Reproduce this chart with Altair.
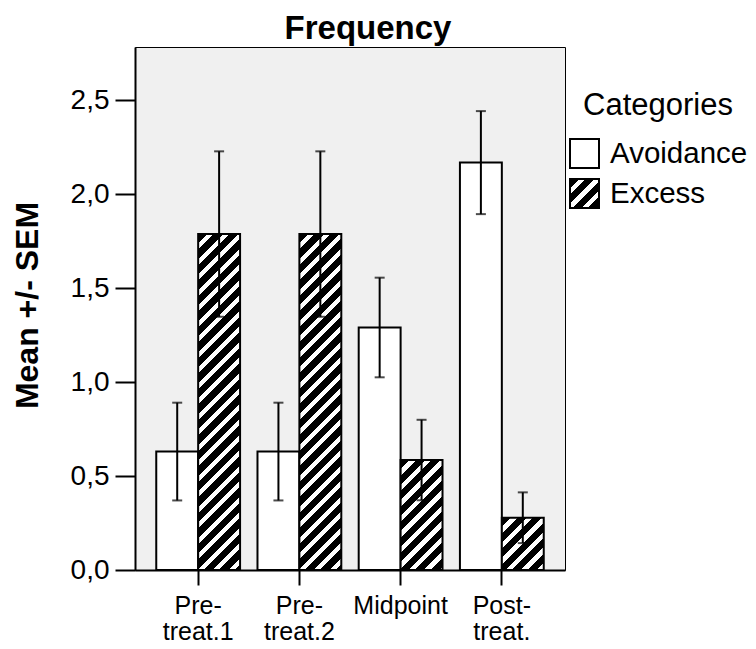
import json
import altair as alt
import pandas as pd

# ---------------- data ----------------
periods = ["Pre-treat.1", "Pre-treat.2", "Midpoint", "Post-treat."]
categories = ["Avoidance", "Excess"]
avoid_mean = [0.63, 0.63, 1.29, 2.167]
avoid_sem = [0.26, 0.26, 0.265, 0.274]
excess_mean = [1.787, 1.787, 0.585, 0.278]
excess_sem = [0.44, 0.44, 0.214, 0.135]
y_ticks = [0.0, 0.5, 1.0, 1.5, 2.0, 2.5]

# ---------------- layout constants ----------------
W, H = 430, 523
YMAX = 2.782
PAD_IN, PAD_OUT = 0.172, 0.21
FONT = "Liberation Sans"

rows = []
for i, p in enumerate(periods):
    rows.append(dict(period=p, category="Avoidance", mean=avoid_mean[i], sem=avoid_sem[i]))
    rows.append(dict(period=p, category="Excess", mean=excess_mean[i], sem=excess_sem[i]))
df = pd.DataFrame(rows)
df["lo"] = df["mean"] - df["sem"]
df["hi"] = df["mean"] + df["sem"]

# ---------------- hatch (diagonal stripes) as linear gradient ----------------
STEP = W / (len(periods) - PAD_IN + 2 * PAD_OUT)
BAR_W = STEP * (1 - PAD_IN) / 2
L = 600.0      # length (in x+y pixels) covered by t in [0,1]
PERIOD = 15.5  # stripe period along x (or y)
WHITE = 0.40   # white fraction of a period

stops = []
i = 0
while i * PERIOD < L:
    a = i * PERIOD / L
    b = min((i * PERIOD + PERIOD * (1 - WHITE)) / L, 1.0)
    c = min((i + 1) * PERIOD / L, 1.0)
    stops += [(a, "black"), (b, "black"), (b, "white"), (c, "white")]
    i += 1


def hatch(w, h):
    k = L / (w * w + h * h)
    return {
        "gradient": "linear",
        "x1": 0, "y1": 0,
        "x2": round(w * k, 5), "y2": round(h * k, 5),
        "stops": [{"offset": round(o, 5), "color": c} for o, c in stops],
    }


legend_hatch_expr = json.dumps(hatch(29, 29))

# ---------------- encodings ----------------
x_axis = alt.Axis(
    labelAngle=0,
    labelExpr="indexof(datum.label, '-') >= 0 ? [slice(datum.label, 0, indexof(datum.label, '-') + 1), slice(datum.label, indexof(datum.label, '-') + 1)] : datum.label",
    tickSize=15, tickWidth=2, tickColor="black",
    domainColor="black", domainWidth=2,
    labelFontSize=25, labelFont=FONT, labelColor="black",
    labelPadding=8, labelLineHeight=26, labelBaseline="top",
    grid=False,
)
y_axis = alt.Axis(
    values=y_ticks,
    labelExpr="replace(format(datum.value, '.1f'), '.', ',')",
    tickSize=20, tickWidth=2, tickColor="black",
    domainColor="black", domainWidth=2,
    labelFontSize=28, labelFont=FONT, labelColor="black", labelPadding=6,
    titleFontSize=32, titleFont=FONT, titleFontWeight="bold", titleColor="black",
    titleX=-98, titleY=258, titleBaseline="alphabetic", titleAlign="center",
    titleAngle=270,
    grid=False,
)
x_enc = alt.X("period:N", sort=periods,
              scale=alt.Scale(domain=periods, paddingInner=PAD_IN, paddingOuter=PAD_OUT),
              axis=x_axis, title=None)
xoff = alt.XOffset("category:N",
                   scale=alt.Scale(domain=categories, paddingInner=0, paddingOuter=0))
y_scale = alt.Scale(domain=[0, YMAX], nice=False, zero=True)


def y_enc(field):
    return alt.Y(field, scale=y_scale, axis=y_axis, title="Mean +/- SEM")


base = alt.Chart(df)

bars = base.transform_filter(alt.datum.category == "Avoidance").mark_bar(
    stroke="black", strokeWidth=2
).encode(
    x=x_enc, xOffset=xoff, y=y_enc("mean:Q"),
    fill=alt.Fill(
        "category:N",
        scale=alt.Scale(domain=categories, range=["white", alt.ExprRef(expr=legend_hatch_expr)]),
        legend=alt.Legend(
            title="Categories", orient="none", legendX=434, legendY=44,
            titleFontSize=31, titleFont=FONT, titleFontWeight="normal", titleColor="black",
            titleAnchor="middle", titlePadding=16, titleLimit=400,
            labelFontSize=29.5, labelFont=FONT, labelColor="black", labelOffset=10,
            symbolType="square", symbolSize=841, symbolStrokeColor="black",
            symbolStrokeWidth=2, rowPadding=3, padding=0,
        ),
    ),
)

hatched = []
for i, p in enumerate(periods):
    h_px = excess_mean[i] * H / YMAX
    hatched.append(
        base.transform_filter(
            (alt.datum.category == "Excess") & (alt.datum.period == p)
        ).mark_bar(fill=hatch(BAR_W, h_px), stroke="black", strokeWidth=2).encode(
            x=x_enc, xOffset=xoff, y=y_enc("mean:Q")
        )
    )

err = base.mark_rule(color="black", strokeWidth=2).encode(
    x=x_enc, xOffset=xoff, y=y_enc("lo:Q"), y2=alt.Y2("hi:Q")
)
cap_hi = base.mark_tick(color="black", thickness=2, size=10).encode(
    x=x_enc, xOffset=xoff, y=y_enc("hi:Q")
)
cap_lo = base.mark_tick(color="black", thickness=2, size=10).encode(
    x=x_enc, xOffset=xoff, y=y_enc("lo:Q")
)

chart = alt.layer(bars, *hatched, err, cap_hi, cap_lo).properties(
    width=W, height=H,
    title=alt.Title("Frequency", fontSize=33, font=FONT, fontWeight="bold",
                    color="black", anchor="middle", frame="group", offset=1, dx=18),
    padding={"left": 3, "top": 5, "right": 0, "bottom": 0},
).configure_view(fill="#f0f0f0", stroke="black", strokeWidth=1)

chart.save("out.html", embed_options={"renderer": "svg", "actions": False})
